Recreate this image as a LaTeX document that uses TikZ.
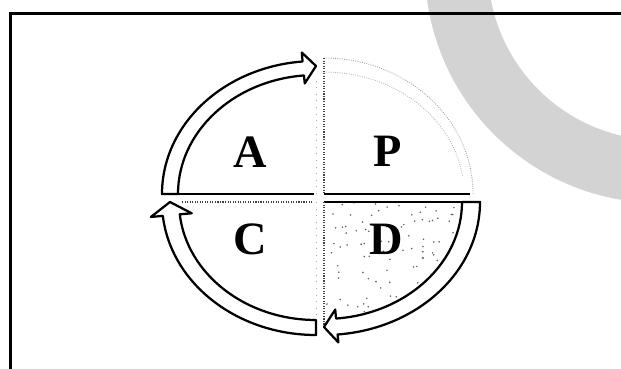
\documentclass[tikz,border=0pt]{standalone}
\usepackage{fontspec}
\setmainfont{Liberation Serif}
\usepackage{tikz}
\usepackage[dvipsnames,svgnames]{xcolor}
\definecolor{abuCincin}{RGB}{211,211,211}

\begin{document}
\begin{tikzpicture}[x=0.025cm,y=0.025cm,
    panah/.style={draw=black,fill=white,line width=1.6pt,line join=round},
    tepi/.style={black!75,densely dotted,line width=0.8pt},
    samar/.style={black!35,loosely dotted,line width=0.7pt},
    huruf/.style={font=\fontsize{33}{33}\selectfont\bfseries,inner sep=0pt,anchor=base}]
    
    \useasboundingbox (0,0) rectangle (621,369);
    
    % Gambar cincin abu-abu di pojok kanan atas
    \begin{scope}
    \clip (0,0) rectangle (621,369);
    \fill[abuCincin,even odd rule] (660,401) circle (235) (660,401) circle (172);
    \end{scope}
    
    % Gambar bingkai (atas dan kiri)
    \draw[line width=1.8pt] (9,355.5)--(621,355.5);
    \draw[line width=2.5pt] (10.5,356.5)--(10.5,0);
    
    % Gambar kuadran P (garis samar)
    \draw[black!40,densely dotted,line width=0.6pt] (324,311) arc[start angle=90,end angle=0,x radius=149,y radius=136];
    \draw[black!30,densely dotted,line width=0.6pt] (324,297) arc[start angle=90,end angle=8,x radius=140,y radius=122];
    \draw[tepi] (324,311)--(324,175);
    \draw[line width=0.9pt] (324,175)--(470,175);
    
    % Gambar kuadran A dan C
    \draw[line width=0.9pt] (178,175)--(314,175);
    \draw[samar] (316,175)--(316,290);
    \draw[tepi] (182,167)--(313,167);
    \draw[samar] (316,167)--(316,50);
    
    % Gambar bintik-bintik di kuadran D
    \begin{scope}[shift={(324,167)}]
    \clip (0,0)--(138,0) arc[start angle=0,end angle=-90,x radius=138,y radius=117]--cycle;
    \pgfmathsetseed{7}
    \foreach \i in {1,...,85}{
        \pgfmathsetmacro{\sudut}{-90*rnd}
        \pgfmathsetmacro{\jari}{sqrt(rnd)}
        \fill[black!60] ({\jari*136*cos(\sudut)},{\jari*115*sin(\sudut)}) circle (0.9);
    }
    \end{scope}
    \draw[line width=0.9pt] (324,167)--(462,167);
    \draw[tepi] (324,167)--(324,44);
    
    % Gambar panah A -> P (kiri atas)
    \begin{scope}[shift={(316,175)}]
    \draw[panah] (180:154 and 133) arc[start angle=180,end angle=95,x radius=154,y radius=133]
        --(95:163 and 142)--(90:146 and 128)--(95:129 and 111)--(95:138 and 119)
        arc[start angle=95,end angle=180,x radius=138,y radius=119]--cycle;
    \end{scope}
    
    % Gambar panah P -> D (kanan bawah)
    \begin{scope}[shift={(324,167)}]
    \draw[panah] (0:156 and 133) arc[start angle=0,end angle=-85,x radius=156,y radius=133]
        --(-85:165 and 141)--(-90:147 and 125)--(-85:129 and 108)--(-85:138 and 117)
        arc[start angle=-85,end angle=0,x radius=138,y radius=117]--cycle;
    \end{scope}
    
    % Gambar panah D -> C (kiri bawah)
    \begin{scope}[shift={(316,167)}]
    \draw[panah] (270:154 and 133) arc[start angle=270,end angle=186,x radius=154,y radius=133]
        --(186:166 and 143)--(180:146 and 126)--(186:125 and 108)--(186:137 and 118)
        arc[start angle=186,end angle=270,x radius=137,y radius=118]--cycle;
    \end{scope}
    
    % Tulis huruf pada setiap kuadran
    \node[huruf] (a) at (250,201) {A};
    \node[huruf] (p) at (388,202) {P};
    \node[huruf] (c) at (250,114) {C};
    \node[huruf] (d) at (386,114) {D};
    
\end{tikzpicture}
\end{document}
